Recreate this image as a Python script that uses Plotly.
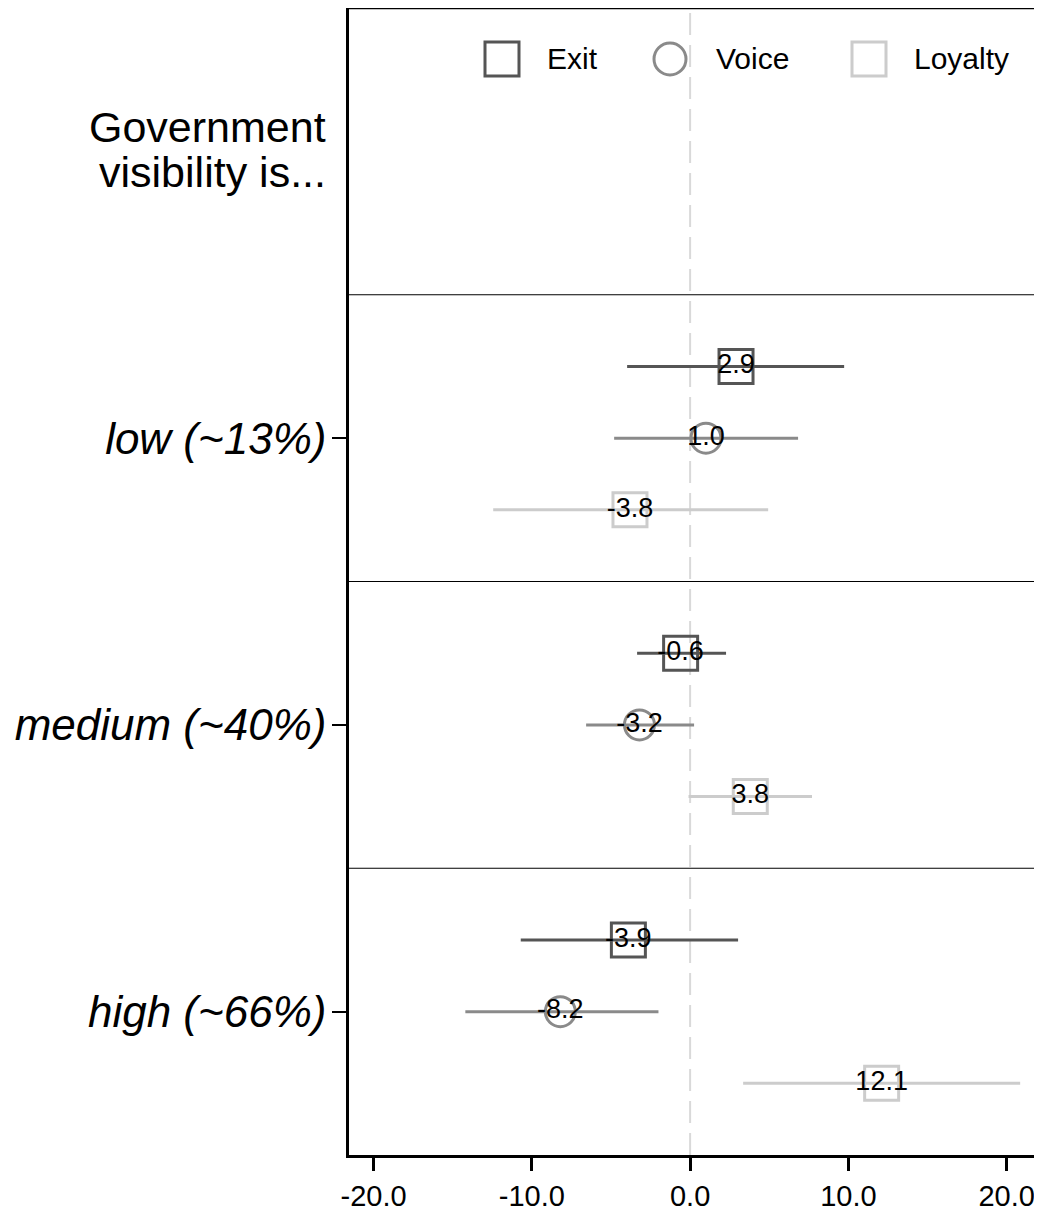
import plotly.graph_objects as go

# ---- data ----
categories = ["low (~13%)", "medium (~40%)", "high (~66%)"]
series = ["Exit", "Voice", "Loyalty"]
estimates = {
    "Exit":    [2.9, -0.6, -3.9],
    "Voice":   [1.0, -3.2, -8.2],
    "Loyalty": [-3.8, 3.8, 12.1],
}
ci_low = {
    "Exit":    [-3.98, -3.35, -10.7],
    "Voice":   [-4.8, -6.57, -14.2],
    "Loyalty": [-12.44, -0.1, 3.35],
}
ci_high = {
    "Exit":    [9.73, 2.27, 3.03],
    "Voice":   [6.82, 0.25, -2.0],
    "Loyalty": [4.93, 7.7, 20.85],
}
x_ticks = [-20, -10, 0, 10, 20]

# ---- styling ----
colors = {"Exit": "#555555", "Voice": "#8a8a8a", "Loyalty": "#cccccc"}
symbols = {"Exit": "square-open", "Voice": "circle-open", "Loyalty": "square-open"}
msize = {"Exit": 34, "Voice": 30, "Loyalty": 34}
offsets = {"Exit": 0.25, "Voice": 0.0, "Loyalty": -0.25}
centers = {c: 2.5 - i for i, c in enumerate(categories)}  # low top, high bottom
FONT = "Liberation Sans, Arial, sans-serif"

fig = go.Figure()
for s in series:
    ys = [centers[c] + offsets[s] for c in categories]
    est = estimates[s]
    plus = [h - e for h, e in zip(ci_high[s], est)]
    minus = [e - l for e, l in zip(est, ci_low[s])]
    fig.add_trace(go.Scatter(
        x=est, y=ys, mode="markers+text", name=s,
        text=[f"{v:.1f}" for v in est],
        textposition="middle center",
        textfont=dict(family=FONT, size=27, color="black"),
        marker=dict(symbol=symbols[s], size=msize[s],
                    color=colors[s], line=dict(width=3, color=colors[s])),
        error_x=dict(type="data", symmetric=False, array=plus, arrayminus=minus,
                     color=colors[s], thickness=3, width=0),
        showlegend=False, cliponaxis=False,
    ))

# page body has an 8px margin; compensate so the plot lands where the reference has it
OFF = 8
W, H = 1042 - OFF, 1214 - OFF
L, R, T, B = 349 - OFF, 0, 8 - OFF, 1214 - 1155
pw, ph = W - L - R, H - T - B

def px_x(p):  # reference screen pixel -> paper
    return (p - OFF - L) / pw

def px_y(p):
    return (H - B - (p - OFF)) / ph

shapes = []
# zero reference line
shapes.append(dict(type="line", xref="x", yref="paper", x0=0, x1=0, y0=0, y1=1,
                   line=dict(color="#d9d9d9", width=2, dash="22px,10px"), layer="below"))
# panel dividers
for yv in [1, 2, 3]:
    shapes.append(dict(type="line", xref="paper", yref="y", x0=0, x1=1, y0=yv, y1=yv,
                       line=dict(color="black", width=1.2), layer="below"))
# top border
shapes.append(dict(type="line", xref="paper", yref="paper", x0=0, x1=1, y0=1, y1=1,
                   line=dict(color="black", width=2.5)))

# legend (manual, large symbols)
leg_y = px_y(59)
legend_items = [("Exit", 502, 545), ("Voice", 670, 714), ("Loyalty", 869, 912)]
annotations = []
for name, sx, tx in legend_items:
    half = 17 if symbols[name] == "square-open" else 16
    shapes.append(dict(
        type="rect" if symbols[name] == "square-open" else "circle",
        xref="paper", yref="paper", xsizemode="pixel", ysizemode="pixel",
        xanchor=px_x(sx), yanchor=leg_y,
        x0=-half, x1=half, y0=-half, y1=half,
        line=dict(color=colors[name], width=3), fillcolor="rgba(0,0,0,0)"))
    annotations.append(dict(text=name, xref="paper", yref="paper", x=px_x(tx), y=leg_y,
                            xanchor="left", yanchor="middle", showarrow=False,
                            font=dict(family=FONT, size=30, color="black")))

# header text
for line, py in [("Government", 127), ("visibility is...", 172)]:
    annotations.append(dict(text=line, xref="paper", yref="paper", x=px_x(328), y=px_y(py),
                            xanchor="right", yanchor="middle", showarrow=False,
                            font=dict(family=FONT, size=43, color="black")))

fig.update_layout(
    width=W, height=H,
    margin=dict(l=L, r=R, t=T, b=B, autoexpand=False),
    plot_bgcolor="white", paper_bgcolor="white",
    shapes=shapes, annotations=annotations,
    showlegend=False,
    xaxis=dict(range=[-21.55, 22.23], tickvals=x_ticks,
               ticktext=[f"{v:.1f}" for v in x_ticks],
               showgrid=False, zeroline=False,
               showline=True, linecolor="black", linewidth=2.5,
               ticks="outside", ticklen=13, tickwidth=2.5, tickcolor="black",
               tickfont=dict(family=FONT, size=29, color="black"),
               automargin=False),
    yaxis=dict(range=[0, 4], tickvals=[centers[c] for c in categories],
               ticktext=categories,
               showgrid=False, zeroline=False,
               showline=True, linecolor="black", linewidth=2.5,
               ticks="outside", ticklen=14, tickwidth=2, tickcolor="black",
               tickfont=dict(family=FONT, size=44, color="black", style="italic"),
               ticklabelstandoff=-3,
               automargin=False),
)

fig.write_html("out.html")
